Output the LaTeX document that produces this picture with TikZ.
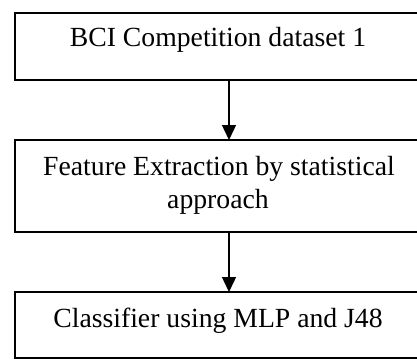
\documentclass[tikz,border=0pt]{standalone}
\usepackage{fontspec}
\setmainfont{Liberation Serif}
\usetikzlibrary{arrows.meta}
\begin{document}
\begin{tikzpicture}[x=1pt,y=-1pt,
  box/.style={draw=black, line width=2.6pt, rectangle, minimum width=406pt, inner sep=0pt, outer sep=0pt, anchor=north west},
  txt/.style={font=\fontsize{27.7}{33.5}\selectfont, text=black, inner sep=0pt, anchor=base, align=center},
  arr/.style={line width=1.4pt, -{Triangle[length=15pt,width=14pt]}}]
\useasboundingbox (0,0) rectangle (417,361);
\clip (0,0) rectangle (417,361);
\fill[white] (0,0) rectangle (417,361);
\node[box, minimum height=67pt] (b1) at (15,13) {};
\node[box, minimum height=92pt] (b2) at (15,140) {};
\node[box, minimum height=66pt] (b3) at (15,292) {};
\node[txt] (t1) at (218,47) {BCI Competition dataset 1};
\node[txt] (t2a) at (219,175) {Feature Extraction by statistical};
\node[txt] (t2b) at (218,208) {approach};
\node[txt] (t3) at (218,327) {Classifier using MLP and J48};
\coordinate (ax) at (229,0);
\draw[arr] (b1.south -| ax) -- (b2.north -| ax);
\draw[arr] (b2.south -| ax) -- (b3.north -| ax);
\end{tikzpicture}
\end{document}
